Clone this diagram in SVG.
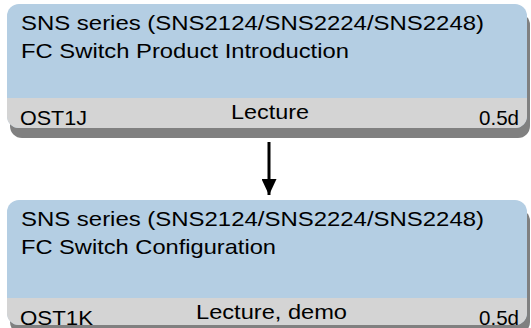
<svg xmlns="http://www.w3.org/2000/svg" width="531" height="328" viewBox="0 0 531 328">
<style>
.shadow{fill:#808080}
.body{fill:#b4cee3}
.band{fill:#d4d4d4}
.t{font-family:"Liberation Sans",Arial,sans-serif;font-size:21px;fill:#000}
</style>
<defs>
<marker id="ah" viewBox="0 0 16 15" refX="16" refY="7.5" markerWidth="16" markerHeight="15" markerUnits="userSpaceOnUse" orient="auto">
<path d="M0,0 L16,7.5 L0,15 Z" fill="#000"/>
</marker>
<clipPath id="c1"><rect x="7" y="4" width="520" height="124" rx="12"/></clipPath>
<clipPath id="c2"><rect x="7" y="200" width="520" height="125" rx="12"/></clipPath>
</defs>
<g id="node1">
<rect class="shadow" x="10" y="13" width="520" height="125" rx="12"/>
<g clip-path="url(#c1)">
<rect class="body" x="7" y="4" width="520" height="124"/>
<rect class="band" x="7" y="98" width="520" height="30"/>
</g>
<text class="t" x="21" y="30" textLength="463" lengthAdjust="spacingAndGlyphs">SNS series (SNS2124/SNS2224/SNS2248)</text>
<text class="t" x="21" y="58" textLength="328" lengthAdjust="spacingAndGlyphs">FC Switch Product Introduction</text>
<text class="t" x="20" y="125" textLength="67" lengthAdjust="spacingAndGlyphs">OST1J</text>
<text class="t" x="231" y="119" textLength="78" lengthAdjust="spacingAndGlyphs">Lecture</text>
<text class="t" x="479" y="125" textLength="40" lengthAdjust="spacingAndGlyphs">0.5d</text>
</g>
<g id="node2">
<rect class="shadow" x="10" y="209" width="520" height="125" rx="12"/>
<g clip-path="url(#c2)">
<rect class="body" x="7" y="200" width="520" height="125"/>
<rect class="band" x="7" y="298" width="520" height="30"/>
</g>
<text class="t" x="21" y="226" textLength="463" lengthAdjust="spacingAndGlyphs">SNS series (SNS2124/SNS2224/SNS2248)</text>
<text class="t" x="21" y="254" textLength="255" lengthAdjust="spacingAndGlyphs">FC Switch Configuration</text>
<text class="t" x="20" y="325" textLength="73" lengthAdjust="spacingAndGlyphs">OST1K</text>
<text class="t" x="196" y="319" textLength="151" lengthAdjust="spacingAndGlyphs">Lecture, demo</text>
<text class="t" x="479" y="325" textLength="40" lengthAdjust="spacingAndGlyphs">0.5d</text>
</g>
<g id="connectors">
<line x1="269" y1="142" x2="269" y2="195" stroke="#000" stroke-width="3" marker-end="url(#ah)"/>
</g>
</svg>
